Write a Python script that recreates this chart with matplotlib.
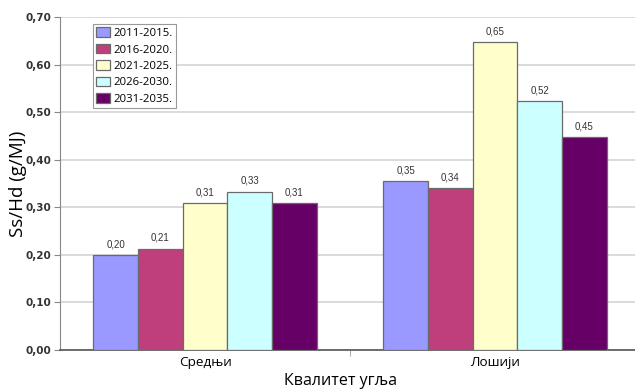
import numpy as np
import matplotlib
matplotlib.use("Agg")
import matplotlib.pyplot as plt
from matplotlib.ticker import FuncFormatter, MultipleLocator

categories = ["Средњи", "Лошији"]
periods = ["2011-2015.", "2016-2020.", "2021-2025.", "2026-2030.", "2031-2035."]
values = [
    [0.200, 0.355],   # 2011-2015.
    [0.213, 0.340],   # 2016-2020.
    [0.308, 0.647],   # 2021-2025.
    [0.333, 0.524],   # 2026-2030.
    [0.308, 0.447],   # 2031-2035.
]
colors = ["#9999FF", "#BF3F7D", "#FFFFCC", "#CCFFFF", "#660066"]

W, H = 635, 389
fig = plt.figure(figsize=(W / 100, H / 100), dpi=100)
ax = fig.add_axes([60 / W, 1 - 350 / H, 580 / W, 333 / H])

x = np.arange(len(categories))
bar_w = 1 / 6.5
for i, (period, vals, col) in enumerate(zip(periods, values, colors)):
    pos = x + (i - 2) * bar_w
    bars = ax.bar(pos, vals, width=bar_w, color=col, edgecolor="#6a6a6a",
                  linewidth=0.9, label=period, zorder=3)
    for b, v in zip(bars, vals):
        ax.text(b.get_x() + b.get_width() / 2, v + 0.012, f"{v:.2f}".replace(".", ","),
                ha="center", va="bottom", fontsize=7, color="#333333",
                family="Liberation Sans")

ax.set_xlim(-0.5, 1.5)
ax.set_ylim(0, 0.70)
ax.yaxis.set_major_locator(MultipleLocator(0.1))
ax.yaxis.set_major_formatter(FuncFormatter(lambda v, p: f"{v:.2f}".replace(".", ",")))
ax.grid(axis="y", color="#d4d4d4", linewidth=1.2, zorder=0)

ax.set_xticks(x)
ax.set_xticklabels(categories, family="Open Sans", fontsize=9.7)
ax.set_xticks([0.5], minor=True)
ax.tick_params(axis="x", which="major", length=0, pad=4)
ax.tick_params(axis="x", which="minor", length=4, color="#999999")
ax.tick_params(axis="y", length=4, color="#888888", pad=2)
for lbl in ax.get_yticklabels():
    lbl.set_fontsize(7.5)
    lbl.set_fontweight("bold")
    lbl.set_color("#333333")

for side in ["top", "right"]:
    ax.spines[side].set_visible(False)
ax.spines["left"].set_color("#888888")
ax.spines["bottom"].set_color("#555555")
ax.spines["bottom"].set_linewidth(1.2)

fig.text(18 / W, 1 - 184 / H, "Ss/Hd (g/MJ)", rotation=90, ha="center", va="center",
         fontsize=13.5, family="Open Sans")
fig.text(341 / W, 1 - 381 / H, "Квалитет угља", ha="center", va="center",
         fontsize=11.5, family="Open Sans")

leg = ax.legend(loc="upper left", fancybox=False, framealpha=1,
                edgecolor="#999999", prop={"family": "Open Sans", "size": 8.2},
                handlelength=1.2, handleheight=0.9, handletextpad=0.3,
                labelspacing=0.42, borderpad=0.3, borderaxespad=0)
leg.set_bbox_to_anchor((93 / W, 1 - 24 / H), transform=fig.transFigure)
leg.get_frame().set_linewidth(0.8)

fig.savefig("out.png", dpi=100)
